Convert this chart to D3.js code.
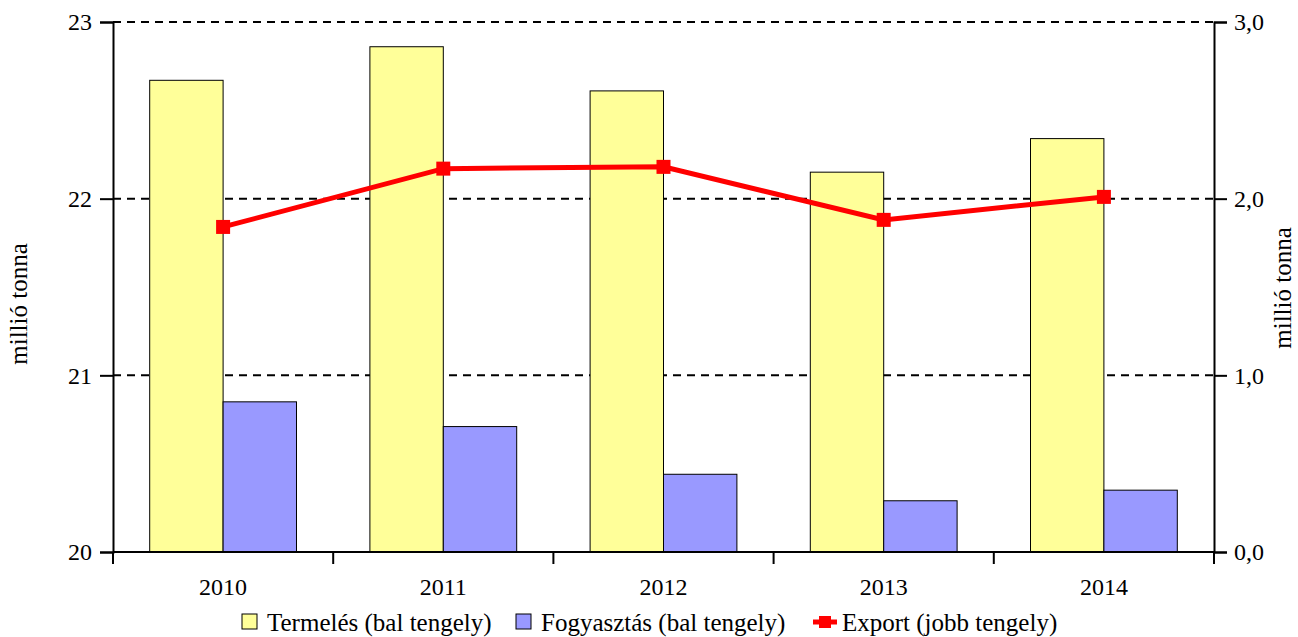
<!DOCTYPE html>
<html>
<head>
<meta charset="utf-8">
<script src="https://cdn.jsdelivr.net/npm/d3@7"></script>
<style>
  body { margin: 0; background: #fff; }
  text { font-family: "Liberation Serif", "Times New Roman", serif; fill: #000; }
</style>
</head>
<body>
<svg width="1298" height="637"></svg>
<script>
var years = ["2010", "2011", "2012", "2013", "2014"];
var termeles = [22.67, 22.86, 22.61, 22.15, 22.34];
var fogyasztas = [20.85, 20.71, 20.44, 20.29, 20.35];
var exportVals = [1.84, 2.17, 2.18, 1.88, 2.01];
var leftTicks = [20, 21, 22, 23];
var rightTicks = [0, 1, 2, 3];

var serif = "'Liberation Serif', 'Times New Roman', serif";

var margin = {top: 22, right: 84, bottom: 85, left: 113};
var width = 1298 - margin.left - margin.right;
var height = 637 - margin.top - margin.bottom;

var svg = d3.select("svg")
  .append("g")
  .attr("transform", "translate(" + margin.left + "," + margin.top + ")");

var x = d3.scaleBand().domain(years).range([0, width]);
var y = d3.scaleLinear().domain([20, 23]).range([height, 0]);
var y2 = d3.scaleLinear().domain([0, 3]).range([height, 0]);

var barW = x.bandwidth() / 3;

// gridlines
svg.selectAll(".grid").data(leftTicks).enter().append("line")
  .attr("x1", 0).attr("x2", width)
  .attr("y1", function(d) { return y(d); })
  .attr("y2", function(d) { return y(d); })
  .attr("stroke", "#000")
  .attr("stroke-width", 2)
  .attr("stroke-dasharray", "8,6");

// bars
svg.selectAll(".bar1").data(termeles).enter().append("rect")
  .attr("x", function(d, i) { return x(years[i]) + x.bandwidth() / 2 - barW; })
  .attr("width", barW)
  .attr("y", function(d) { return y(d); })
  .attr("height", function(d) { return height - y(d); })
  .attr("fill", "#ffff99")
  .attr("stroke", "#000")
  .attr("stroke-width", 1);

svg.selectAll(".bar2").data(fogyasztas).enter().append("rect")
  .attr("x", function(d, i) { return x(years[i]) + x.bandwidth() / 2; })
  .attr("width", barW)
  .attr("y", function(d) { return y(d); })
  .attr("height", function(d) { return height - y(d); })
  .attr("fill", "#9999ff")
  .attr("stroke", "#000")
  .attr("stroke-width", 1);

// export line
var line = d3.line()
  .x(function(d, i) { return x(years[i]) + x.bandwidth() / 2; })
  .y(function(d) { return y2(d); });

svg.append("path")
  .datum(exportVals)
  .attr("d", line)
  .attr("fill", "none")
  .attr("stroke", "#ff0000")
  .attr("stroke-width", 5);

svg.selectAll(".pt").data(exportVals).enter().append("rect")
  .attr("x", function(d, i) { return x(years[i]) + x.bandwidth() / 2 - 7; })
  .attr("y", function(d) { return y2(d) - 7; })
  .attr("width", 14).attr("height", 14)
  .attr("fill", "#ff0000");

// axes
var yAxis = d3.axisLeft(y).tickValues(leftTicks).tickSize(13).tickPadding(8)
  .tickFormat(d3.format("d"));
var y2Axis = d3.axisRight(y2).tickValues(rightTicks).tickSize(13).tickPadding(7)
  .tickFormat(function(d) { return d.toFixed(1).replace(".", ","); });

var gl = svg.append("g").call(yAxis);
var gr = svg.append("g").attr("transform", "translate(" + width + ",0)").call(y2Axis);

var gx = svg.append("g").attr("transform", "translate(0," + height + ")");
gx.append("line").attr("x1", 0).attr("x2", width).attr("stroke", "#000").attr("stroke-width", 2);
gx.selectAll(".xt").data(d3.range(years.length + 1)).enter().append("line")
  .attr("x1", function(i) { return i * x.step(); })
  .attr("x2", function(i) { return i * x.step(); })
  .attr("y1", 0).attr("y2", 12)
  .attr("stroke", "#000").attr("stroke-width", 2);
gx.selectAll(".xl").data(years).enter().append("text")
  .attr("x", function(d) { return x(d) + x.bandwidth() / 2; })
  .attr("y", 43)
  .attr("text-anchor", "middle")
  .style("font-family", serif)
  .style("font-size", "24px")
  .text(function(d) { return d; });

[gl, gr].forEach(function(g) {
  g.attr("font-family", null).attr("font-size", null);
  g.select(".domain").attr("stroke-width", 2);
  g.selectAll(".tick line").attr("stroke-width", 2);
  g.selectAll("text").style("font-family", serif).style("font-size", "24px");
});

// axis titles
svg.append("text")
  .attr("transform", "translate(-86," + (304 - margin.top) + ") rotate(-90)")
  .attr("text-anchor", "middle")
  .style("font-family", serif)
  .style("font-size", "25px")
  .text("millió tonna");
svg.append("text")
  .attr("transform", "translate(" + (1291 - margin.left) + "," + (288 - margin.top) + ") rotate(-90)")
  .attr("text-anchor", "middle")
  .style("font-family", serif)
  .style("font-size", "25px")
  .text("millió tonna");

// legend
var legend = d3.select("svg").append("g").attr("transform", "translate(0,622)");
var items = [
  {label: "Termelés (bal tengely)", x: 242, type: "box", color: "#ffff99"},
  {label: "Fogyasztás (bal tengely)", x: 516, type: "box", color: "#9999ff"},
  {label: "Export (jobb tengely)", x: 813, type: "line", color: "#ff0000"}
];
items.forEach(function(it) {
  if (it.type === "box") {
    legend.append("rect")
      .attr("x", it.x).attr("y", -8).attr("width", 15).attr("height", 15)
      .attr("fill", it.color).attr("stroke", "#000").attr("stroke-width", 1);
    legend.append("text").attr("x", it.x + 25).attr("y", 9)
      .style("font-family", serif)
      .style("font-size", "25px").text(it.label);
  } else {
    legend.append("line").attr("x1", it.x).attr("x2", it.x + 24)
      .attr("y1", 0).attr("y2", 0).attr("stroke", it.color).attr("stroke-width", 5);
    legend.append("rect").attr("x", it.x + 6).attr("y", -6).attr("width", 12).attr("height", 12)
      .attr("fill", it.color);
    legend.append("text").attr("x", it.x + 29).attr("y", 9)
      .style("font-family", serif)
      .style("font-size", "25px").text(it.label);
  }
});
</script>
</body>
</html>
